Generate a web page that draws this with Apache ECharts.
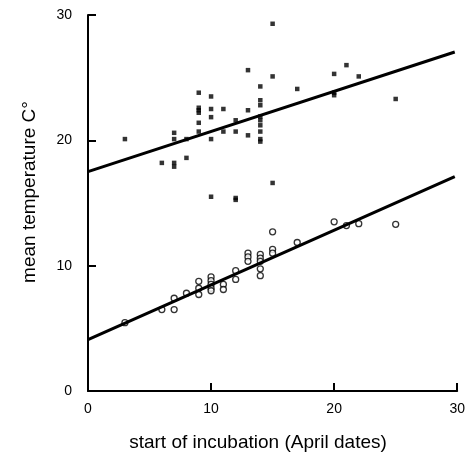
<!DOCTYPE html>
<html>
<head>
<meta charset="utf-8">
<script src="https://cdn.jsdelivr.net/npm/echarts@6/dist/echarts.min.js"></script>
<style>
html,body{margin:0;padding:0;background:#fff;}
#chart{width:468px;height:458px;}
</style>
</head>
<body>
<div id="chart"></div>
<script>
// Air temperature (filled dots)
var upperPoints = [
  [3,20.1],[6,18.2],[7,20.6],[7,20.1],[7,18.2],[7,17.9],[8,18.6],[8,20.1],
  [9,23.8],[9,22.6],[9,22.4],[9,22.2],[9,21.4],[9,20.7],
  [10,23.5],[10,22.5],[10,21.85],[10,20.1],[10,15.5],
  [11,22.5],[11,20.7],[12,21.6],[12,20.7],[12,15.4],[12,15.25],
  [13,25.6],[13,22.4],[13,20.4],
  [14,24.3],[14,23.2],[14,22.8],[14,21.9],[14,21.6],[14,21.2],[14,20.7],[14,20.1],[14,19.9],
  [15,29.3],[15,25.1],[15,16.6],[17,24.1],
  [20,25.3],[20,23.8],[20,23.6],[21,26.0],[22,25.1],[25,23.3]
];
// Nest temperature (open circles)
var lowerPoints = [
  [3,5.45],[6,6.5],[7,6.5],[7,7.4],[8,7.8],
  [9,8.75],[9,8.2],[9,7.7],
  [10,9.1],[10,8.8],[10,8.5],[10,8.2],[10,8.0],
  [11,8.5],[11,8.1],[12,9.6],[12,8.9],
  [13,11.0],[13,10.7],[13,10.35],
  [14,10.9],[14,10.6],[14,10.35],[14,9.75],[14,9.2],
  [15,12.7],[15,11.3],[15,11.0],[17,11.85],
  [20,13.5],[21,13.2],[22,13.35],[25,13.3]
];
var upperFit = [[0,17.5],[29.8,27.05]];
var lowerFit = [[0,4.1],[29.8,17.1]];
var xTicks = [0,10,20,30];
var yTicks = [0,10,20,30];
var xTitle = 'start of incubation (April dates)';
var yTitle = 'mean temperature C°';

var chart = echarts.init(document.getElementById('chart'));
var font = '"Liberation Sans", Arial, sans-serif';
var axisCommon = {
  type:'value', min:0, max:30, interval:10,
  axisLine:{show:true, onZero:false, lineStyle:{color:'#000', width:2}},
  axisTick:{show:true, inside:true, length:8, lineStyle:{color:'#000', width:2}},
  splitLine:{show:false},
  axisLabel:{color:'#000', fontFamily:font, fontSize:14}
};
chart.setOption({
  animation:false,
  grid:{left:88, right:7, top:15, bottom:67},
  xAxis: Object.assign({}, axisCommon, {axisLabel:Object.assign({}, axisCommon.axisLabel, {margin:11, formatter:function(v){return xTicks.indexOf(v)>=0?String(v):'';}})}),
  yAxis: Object.assign({}, axisCommon, {axisLabel:Object.assign({}, axisCommon.axisLabel, {margin:16, formatter:function(v){return yTicks.indexOf(v)>=0?String(v):'';}})}),
  graphic:[
    {type:'text', x:258, y:443, style:{text:xTitle, font:'19px '+font, fill:'#000', textAlign:'center', textVerticalAlign:'middle'}},
    {type:'text', x:30, y:192, rotation:Math.PI/2, style:{text:yTitle, font:'19px '+font, fill:'#000', textAlign:'center', textVerticalAlign:'middle'}}
  ],
  series:[
    {type:'line', data:upperFit, symbol:'none', lineStyle:{color:'#000', width:3}, z:3},
    {type:'line', data:lowerFit, symbol:'none', lineStyle:{color:'#000', width:3}, z:3},
    {type:'scatter', data:upperPoints, symbol:'rect', symbolSize:4.5, itemStyle:{color:'#000'}, z:4},
    {type:'scatter', data:lowerPoints, symbol:'circle', symbolSize:6, itemStyle:{color:'#fff', borderColor:'#000', borderWidth:1.3}, z:2}
  ]
});
</script>
</body>
</html>
